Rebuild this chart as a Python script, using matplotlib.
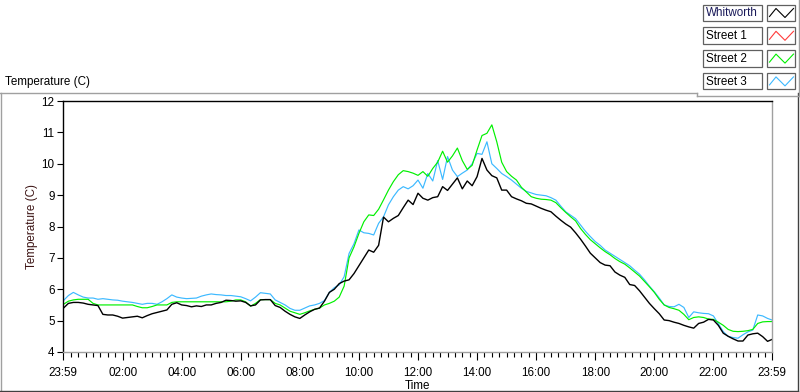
import numpy as np
import matplotlib
matplotlib.use('Agg')
import matplotlib.pyplot as plt
from matplotlib.patches import Rectangle
from matplotlib.lines import Line2D

plt.rcParams['font.family'] = ['Liberation Sans', 'DejaVu Sans']

# ---------------- data ----------------
series_names = ['Whitworth', 'Street 1', 'Street 2', 'Street 3']
series_colors = ['#000000', '#ff3b3b', '#00f000', '#3cb9ff']

# sample times in minutes after midnight (10-minute samples, last at 23:59)
sample_minutes = list(range(0, 1440, 10)) + [1439]

whitworth = [
    5.40, 5.55, 5.58, 5.58, 5.56, 5.52,
    5.50, 5.48, 5.20, 5.18, 5.18, 5.14,
    5.08, 5.10, 5.12, 5.14, 5.09, 5.16,
    5.22, 5.26, 5.30, 5.34, 5.52, 5.57,
    5.50, 5.48, 5.44, 5.47, 5.45, 5.50,
    5.50, 5.55, 5.58, 5.65, 5.64, 5.62,
    5.63, 5.58, 5.47, 5.50, 5.66, 5.67,
    5.67, 5.48, 5.42, 5.30, 5.20, 5.12,
    5.07, 5.18, 5.28, 5.36, 5.40, 5.62,
    5.90, 6.00, 6.18, 6.26, 6.30, 6.50,
    6.75, 7.00, 7.25, 7.18, 7.40, 8.30,
    8.15, 8.26, 8.35, 8.60, 8.84, 8.70,
    9.06, 8.90, 8.84, 8.92, 8.95, 9.27,
    9.15, 9.35, 9.55, 9.20, 9.45, 9.30,
    9.59, 10.17, 9.80, 9.62, 9.55, 9.16,
    9.16, 8.95, 8.88, 8.82, 8.74, 8.72,
    8.65, 8.58, 8.52, 8.47, 8.33, 8.20,
    8.08, 7.98, 7.80, 7.60, 7.38, 7.15,
    7.00, 6.85, 6.77, 6.75, 6.55, 6.45,
    6.38, 6.15, 6.12, 5.95, 5.75, 5.55,
    5.38, 5.22, 5.02, 5.00, 4.95, 4.91,
    4.85, 4.80, 4.76, 4.91, 4.95, 5.04,
    5.02, 4.85, 4.60, 4.50, 4.42, 4.35,
    4.35, 4.54, 4.58, 4.60, 4.49, 4.34,
    4.40,
]

street1 = []  # no data recorded

street2 = [
    5.52, 5.62, 5.66, 5.68, 5.68, 5.68,
    5.55, 5.50, 5.50, 5.50, 5.50, 5.50,
    5.50, 5.50, 5.50, 5.45, 5.41, 5.41,
    5.45, 5.50, 5.50, 5.50, 5.58, 5.60,
    5.60, 5.60, 5.60, 5.60, 5.60, 5.60,
    5.60, 5.60, 5.60, 5.60, 5.62, 5.66,
    5.66, 5.60, 5.46, 5.55, 5.67, 5.67,
    5.67, 5.55, 5.50, 5.40, 5.30, 5.25,
    5.20, 5.25, 5.31, 5.36, 5.40, 5.50,
    5.55, 5.62, 5.75, 6.10, 7.00, 7.35,
    7.78, 8.15, 8.37, 8.35, 8.55, 8.85,
    9.16, 9.43, 9.65, 9.78, 9.75, 9.70,
    9.63, 9.75, 9.60, 9.85, 10.05, 10.40,
    10.05, 10.25, 10.50, 10.10, 9.82, 9.95,
    10.44, 10.90, 10.97, 11.24, 10.70, 10.05,
    9.75, 9.60, 9.48, 9.25, 9.10, 8.95,
    8.90, 8.87, 8.86, 8.84, 8.76, 8.60,
    8.45, 8.31, 8.18, 7.94, 7.75, 7.58,
    7.45, 7.32, 7.20, 7.10, 6.98, 6.88,
    6.80, 6.68, 6.55, 6.42, 6.25, 6.08,
    5.90, 5.68, 5.50, 5.42, 5.38, 5.33,
    5.20, 5.03, 5.10, 5.12, 5.10, 5.05,
    5.04, 4.95, 4.85, 4.72, 4.66, 4.65,
    4.66, 4.68, 4.72, 4.91, 4.96, 4.97,
    4.97,
]

street3 = [
    5.64, 5.80, 5.90, 5.82, 5.75, 5.72,
    5.72, 5.68, 5.70, 5.68, 5.66, 5.65,
    5.62, 5.60, 5.58, 5.55, 5.52, 5.55,
    5.55, 5.52, 5.60, 5.70, 5.82, 5.75,
    5.72, 5.70, 5.71, 5.72, 5.78, 5.82,
    5.85, 5.83, 5.82, 5.80, 5.80, 5.78,
    5.76, 5.70, 5.63, 5.75, 5.89, 5.87,
    5.85, 5.66, 5.58, 5.50, 5.39, 5.33,
    5.33, 5.40, 5.47, 5.50, 5.55, 5.64,
    5.90, 6.05, 6.14, 6.40, 7.14, 7.45,
    7.89, 7.80, 7.78, 7.73, 8.10, 8.31,
    8.69, 8.95, 9.16, 9.27, 9.20, 9.30,
    9.48, 9.22, 9.69, 9.45, 10.10, 9.50,
    10.23, 9.80, 9.59, 9.70, 9.80, 10.00,
    10.33, 10.30, 10.70, 10.00, 9.85, 9.69,
    9.59, 9.48, 9.35, 9.22, 9.12, 9.07,
    9.02, 9.00, 8.98, 8.92, 8.84, 8.65,
    8.47, 8.36, 8.25, 8.05, 7.85, 7.68,
    7.52, 7.40, 7.25, 7.15, 7.05, 6.95,
    6.85, 6.75, 6.61, 6.48, 6.30, 6.10,
    5.92, 5.72, 5.50, 5.45, 5.44, 5.52,
    5.42, 5.10, 5.28, 5.25, 5.23, 5.22,
    5.15, 4.90, 4.65, 4.50, 4.46, 4.44,
    4.55, 4.64, 4.70, 5.18, 5.15, 5.07,
    5.02,
]

x_tick_minutes = [-1, 120, 240, 360, 480, 600, 720, 840, 960, 1080, 1200, 1320, 1439]
x_tick_labels = ['23:59', '02:00', '04:00', '06:00', '08:00', '10:00', '12:00',
                 '14:00', '16:00', '18:00', '20:00', '22:00', '23:59']
y_ticks = [4, 5, 6, 7, 8, 9, 10, 11, 12]

# ---------------- figure ----------------
W, H = 800, 392
fig = plt.figure(figsize=(W / 100, H / 100), dpi=100)
fig.patch.set_facecolor('white')
FS = 8.4


def fx(px):
    return px / W


def fy(py):
    return 1 - py / H


ax = fig.add_axes([fx(63), fy(352), (772 - 63) / W, (352 - 101) / H])
ax.set_facecolor('white')

t = np.array(sample_minutes, dtype=float)
# draw order: Street 3, Street 2, Street 1, Whitworth on top
ax.plot(t, street3, color=series_colors[3], lw=0.85)
ax.plot(t, street2, color=series_colors[2], lw=0.85)
if len(street1):
    ax.plot(t[:len(street1)], street1, color=series_colors[1], lw=0.85)
ax.plot(t, whitworth, color=series_colors[0], lw=1.0)

ax.set_xlim(-1, 1439)
ax.set_ylim(4, 12)
ax.set_xticks(x_tick_minutes)
ax.set_xticklabels(x_tick_labels)
ax.set_xticks(list(range(15, 1440, 15)), minor=True)
ax.set_yticks(y_ticks)
ax.set_yticklabels([str(v) for v in y_ticks])

ax.tick_params(axis='x', which='major', direction='out', length=6, width=0.8,
               labelsize=FS, pad=5, color='black')
ax.tick_params(axis='x', which='minor', direction='out', length=3.5, width=0.8,
               color='black')
ax.tick_params(axis='y', which='major', direction='out', length=4, width=0.8,
               labelsize=FS, pad=2, color='black')

for side in ['left', 'top']:
    ax.spines[side].set_color('black')
    ax.spines[side].set_linewidth(1.0)
for side in ['right', 'bottom']:
    ax.spines[side].set_color('#a0a0a0')
    ax.spines[side].set_linewidth(1.0)

ax.set_ylabel('Temperature (C)', fontsize=FS, color='#3c1414', labelpad=2.5)
ax.set_xlabel('Time', fontsize=FS, labelpad=0.5)

# ---------------- outer frame ----------------
frame_col = '#a0a0a0'
fig.add_artist(Line2D([fx(0), fx(697)], [fy(92.5), fy(92.5)], color=frame_col, lw=1.0))
fig.add_artist(Line2D([fx(0.8), fx(0.8)], [fy(92.5), fy(391.5)], color=frame_col, lw=1.0))
fig.add_artist(Line2D([fx(0), fx(798)], [fy(391.3), fy(391.3)], color='#404040', lw=1.0))
fig.add_artist(Line2D([fx(797.5), fx(797.5)], [fy(92.5), fy(391.5)], color='#404040', lw=1.0))

fig.text(fx(5), fy(82), 'Temperature (C)', fontsize=FS, va='center', ha='left', color='black')

# ---------------- legend ----------------
fig.add_artist(Line2D([fx(799), fx(799)], [fy(0), fy(96)], color=frame_col, lw=1.0))
fig.add_artist(Line2D([fx(697), fx(697)], [fy(92.5), fy(96)], color=frame_col, lw=1.0))
fig.add_artist(Line2D([fx(697), fx(799)], [fy(96), fy(96)], color=frame_col, lw=1.0))

label_colors = ['#1a1a5a', 'black', 'black', 'black']
for i, (name, col) in enumerate(zip(series_names, series_colors)):
    top = 4.5 + 22.8 * i
    hgt = 16.5
    fig.add_artist(Rectangle((fx(703), fy(top + hgt)), 59 / W, hgt / H,
                             transform=fig.transFigure, facecolor='white',
                             edgecolor='#606060', lw=0.9))
    fig.add_artist(Rectangle((fx(767), fy(top + hgt)), 28 / W, hgt / H,
                             transform=fig.transFigure, facecolor='white',
                             edgecolor='#606060', lw=0.9))
    fig.text(fx(705.5), fy(top + hgt / 2 + 0.5), name, fontsize=FS, va='center',
             ha='left', color=label_colors[i])
    zx = [769.5, 776, 785, 793.5]
    zy = [top + 12, top + 4, top + 13, top + 4]
    fig.add_artist(Line2D([fx(v) for v in zx], [fy(v) for v in zy], color=col, lw=0.8))

fig.savefig('out.png', dpi=100, facecolor='white')
